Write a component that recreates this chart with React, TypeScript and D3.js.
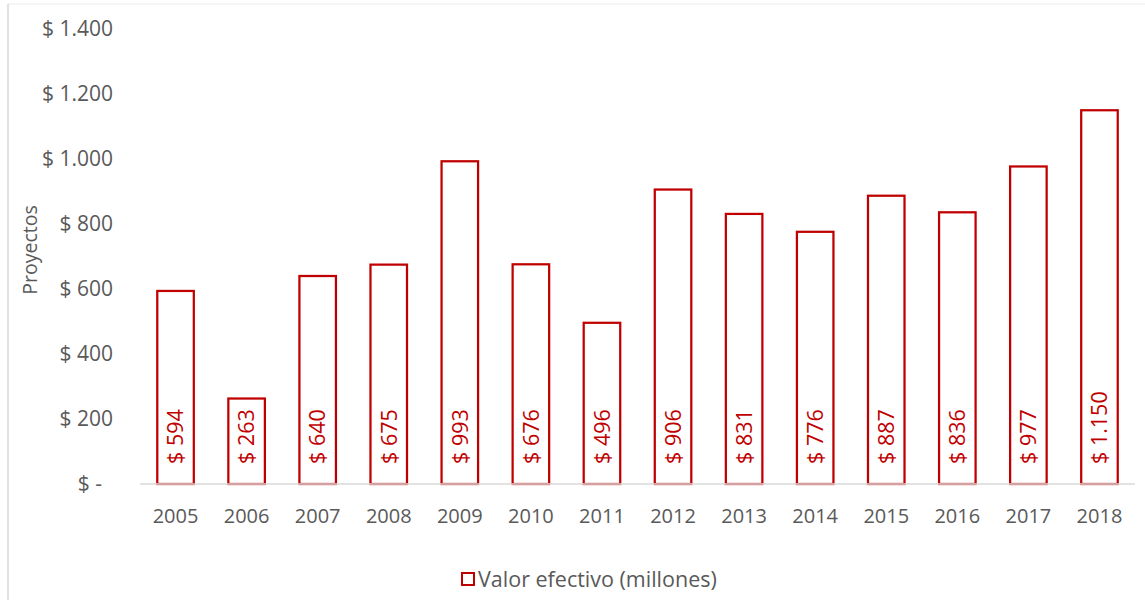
import React from "react";
import * as d3 from "d3";

const years = ["2005","2006","2007","2008","2009","2010","2011","2012","2013","2014","2015","2016","2017","2018"];
const values = [594, 263, 640, 675, 993, 676, 496, 906, 831, 776, 887, 836, 977, 1150];
const yTicks = [0, 200, 400, 600, 800, 1000, 1200, 1400];
const seriesName = "Valor efectivo (millones)";
const axisTitle = "Proyectos";

const W = 1145, H = 600;
const RED = "#C00000";
const GRAY = "#595959";
const LINE = "#D9D9D9";
const FONT = "'Open Sans', 'Noto Sans', sans-serif";

const loc = d3.formatLocale({ decimal: ",", thousands: ".", grouping: [3], currency: ["$ ", ""] });
const fmt = loc.format(",d");
const money = (v: number) => (v === 0 ? "$ -\u00a0\u00a0" : "$ " + fmt(v));

export default function App() {
  const x = d3.scaleBand<string>().domain(years).range([140, 1135]).paddingInner(0.486).paddingOuter(0.243);
  const y = d3.scaleLinear().domain([0, 1400]).range([484, 29]);

  return (
    <svg width={W} height={H} style={{ position: "absolute", left: 0, top: 0, background: "#fff" }} fontFamily={FONT}>
      <rect x={0} y={0} width={W} height={H} fill="#fff" />
      {/* chart border */}
      <line x1={8} y1={4} x2={W} y2={4} stroke="#EBEBEB" strokeWidth={1} />
      <line x1={8} y1={4} x2={8} y2={H} stroke={LINE} strokeWidth={1.5} />

      {/* y tick labels */}
      {yTicks.map((t) => (
        <text key={t} x={113} y={y(t)} dy="0.35em" textAnchor="end" fontSize={21} fill={GRAY}>
          {money(t)}
        </text>
      ))}

      {/* y axis title */}
      <text transform={`translate(37,${250}) rotate(-90)`} textAnchor="middle" fontSize={19.5} fill={GRAY}>
        {axisTitle}
      </text>

      {/* bars */}
      {values.map((v, i) => (
        <rect key={years[i]} x={x(years[i])!} y={y(v)} width={x.bandwidth()} height={y(0) - y(v)}
          fill="#fff" stroke={RED} strokeWidth={2.25} />
      ))}

      {/* axis line */}
      <line x1={140} x2={1135} y1={y(0)} y2={y(0)} stroke={LINE} strokeWidth={1.5} />

      {/* bar labels */}
      {values.map((v, i) => {
        const cx = x(years[i])! + x.bandwidth() / 2;
        return (
          <text key={"l" + years[i]} transform={`translate(${cx},${y(0) - 20}) rotate(-90)`} dy="0.36em"
            textAnchor="start" fontSize={21.5} fill={RED}>
            {money(v)}
          </text>
        );
      })}

      {/* x labels */}
      {years.map((yr) => (
        <text key={"x" + yr} x={x(yr)! + x.bandwidth() / 2} y={516} dy="0.35em" textAnchor="middle" fontSize={20} fill={GRAY}>
          {yr}
        </text>
      ))}

      {/* legend */}
      <rect x={462} y={573} width={12} height={12} fill="#fff" stroke={RED} strokeWidth={2} />
      <text x={478} y={579} dy="0.35em" fontSize={21.5} fill={GRAY}>{seriesName}</text>
    </svg>
  );
}
